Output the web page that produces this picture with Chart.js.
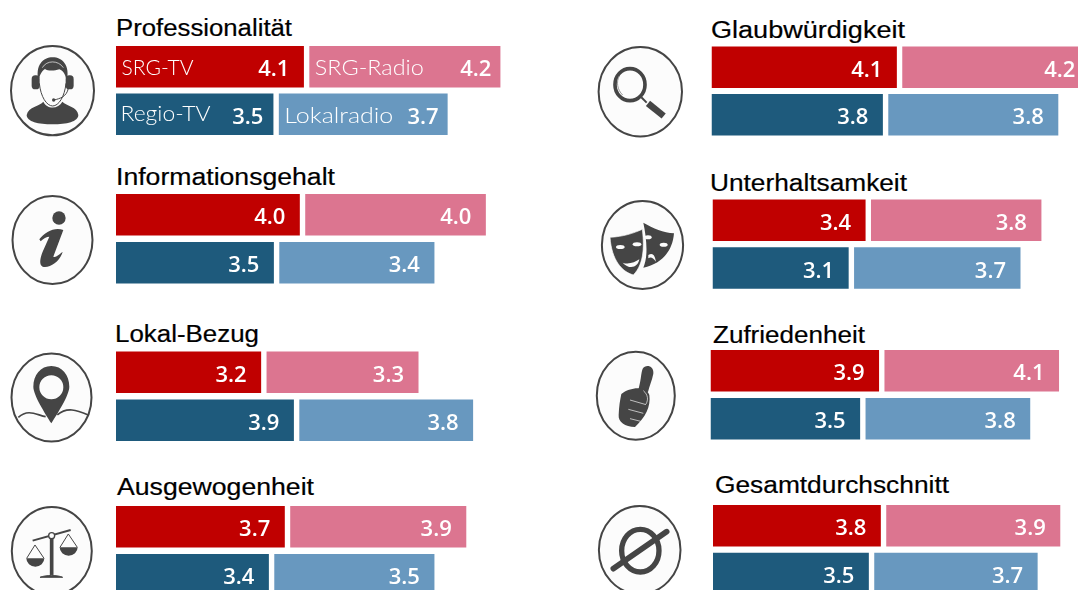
<!DOCTYPE html>
<html lang="de">
<head>
<meta charset="utf-8">
<title>Qualitätsbewertung</title>
<script src="https://cdn.jsdelivr.net/npm/chart.js@4"></script>
<style>
html,body{margin:0;padding:0;background:#fff;width:1078px;height:590px;overflow:hidden}
#stage{position:relative;width:1078px;height:590px;overflow:hidden}
canvas{position:absolute}
.title{position:absolute;font:23px "Liberation Sans",Arial,sans-serif;color:#000;white-space:nowrap;transform-origin:0 0;line-height:26px;-webkit-text-stroke:.2px #000}
#icons{position:absolute;left:0;top:0}
</style>
</head>
<body>
<div id="stage">
<svg id="icons" width="1078" height="590" viewBox="0 0 1078 590" fill="#454545">
  <g fill="#fcfcfc" stroke="#454545" stroke-width="2">
    <ellipse cx="52.5" cy="90.7" rx="41.5" ry="44.6"/>
    <ellipse cx="52.5" cy="240" rx="40" ry="44"/>
    <ellipse cx="51.5" cy="397.5" rx="40" ry="44"/>
    <ellipse cx="51.8" cy="551" rx="40" ry="44"/>
    <ellipse cx="640.3" cy="91.7" rx="41.7" ry="44.7"/>
    <ellipse cx="642.5" cy="245" rx="40.6" ry="44"/>
    <ellipse cx="635.8" cy="395.8" rx="39" ry="44"/>
    <ellipse cx="639.7" cy="550" rx="40.8" ry="44"/>
  </g>
  <!-- headset -->
  <g transform="scale(.3333)">
    <path d="M80 345C85 320 120 318 130 305C140 328 175 328 187 305C200 318 232 320 235 345C235 365 200 373 158 373C115 373 80 365 80 345Z"/>
    <path d="M118 250C122 290 140 318 158 318C176 318 194 290 198 250" fill="none" stroke="#454545" stroke-width="3"/>
    <path d="M116 245C104 195 130 172 158 172C186 172 212 195 200 245C197 225 192 214 178 208C160 214 142 212 135 207C123 215 118 228 116 245Z"/>
    <rect x="95" y="226" width="24" height="42" rx="11"/><rect x="197" y="226" width="24" height="42" rx="11"/>
    <path d="M127 203C140 180 175 180 190 203" fill="none" stroke="#fcfcfc" stroke-width="2"/>
    <path d="M205 265C200 290 180 296 162 300" fill="none" stroke="#454545" stroke-width="3"/><circle cx="161" cy="300" r="5"/>
  </g>
  <!-- info -->
  <g transform="scale(.3333)">
    <circle cx="177" cy="654" r="20"/>
    <path d="M118 718C135 695 165 680 190 690L160 770C165 775 175 765 188 755C180 785 150 805 128 800C115 795 122 770 128 755L148 710C140 710 130 715 122 724Z"/>
  </g>
  <!-- pin -->
  <g transform="translate(0 300) scale(.3333)">
    <path fill-rule="evenodd" d="M154 198C122 198 100 225 100 260C100 285 135 340 154 370C173 340 208 285 208 260C208 225 186 198 154 198ZM154 226A36 36 0 1 0 154 298A36 36 0 1 0 154 226Z"/>
    <path d="M55 352C85 325 110 345 137 350M172 345C200 320 230 330 265 345" fill="none" stroke="#454545" stroke-width="5"/>
  </g>
  <!-- scales -->
  <g transform="translate(0 300) scale(.3333)">
    <path d="M98 722L212 690" stroke="#454545" stroke-width="6"/>
    <path d="M155 707V825" stroke="#454545" stroke-width="11"/>
    <path d="M120 832C135 825 175 825 188 832Z" stroke="#454545" stroke-width="3"/>
    <circle cx="155" cy="707" r="9" fill="#fcfcfc" stroke="#454545" stroke-width="4"/>
    <path d="M80 775L105 735L132 775M180 742L205 702L232 742" fill="none" stroke="#454545" stroke-width="3"/>
    <path d="M79 775A27 25 0 0 0 133 775ZM179 742A27 25 0 0 0 233 742Z"/>
  </g>
  <!-- magnifier -->
  <g transform="translate(580 0) scale(.3333)">
    <ellipse cx="150" cy="254" rx="45" ry="48" fill="none" stroke="#454545" stroke-width="11"/>
    <path d="M118 228C108 245 112 270 128 285" fill="none" stroke="#999" stroke-width="3"/>
    <path d="M184 292L200 308" stroke="#454545" stroke-width="6"/>
    <path d="M204 310L251 348" stroke="#454545" stroke-width="20"/>
  </g>
  <!-- masks -->
  <g transform="translate(580 0) scale(.3333)">
    <path d="M190 668C220 685 250 698 282 700C278 750 250 790 190 803C205 770 200 715 190 668Z"/>
    <path d="M90 712C130 710 160 700 187 688C192 730 195 790 160 825C125 815 95 780 90 712Z" stroke="#fcfcfc" stroke-width="2"/>
    <g fill="#fcfcfc">
      <ellipse cx="121" cy="741" rx="13" ry="6"/><ellipse cx="171" cy="733" rx="13" ry="6"/>
      <path d="M128 788C145 795 165 787 178 778C175 800 150 812 128 788Z"/>
      <ellipse cx="204" cy="712" rx="11" ry="6"/><ellipse cx="251" cy="734" rx="12" ry="6"/>
      <path d="M205 765C220 755 225 770 228 785C218 772 212 770 205 775Z"/>
    </g>
  </g>
  <!-- thumb -->
  <g transform="translate(580 300) scale(.3333)">
    <path d="M174 272C183 245 183 218 188 206C197 191 223 197 220 221C216 242 208 258 204 276Z"/>
    <path d="M124 282C150 262 197 256 208 285C213 320 196 352 165 381C135 381 114 366 116 345C117 320 120 300 124 282Z"/>
    <path d="M190 272C205 285 205 300 198 312M150 300L198 314M145 328L190 340M150 356L182 364" fill="none" stroke="#fcfcfc" stroke-width="2"/>
  </g>
  <!-- average -->
  <g transform="translate(580 300) scale(.3333)">
    <ellipse cx="181" cy="752" rx="56" ry="64" fill="none" stroke="#454545" stroke-width="16"/>
    <path d="M100 806L260 695" stroke="#454545" stroke-width="17" stroke-linecap="round"/>
  </g>
</svg>
</div>
<script>
// --- data (labels show one decimal) ---
const categories = ["Professionalität","Informationsgehalt","Lokal-Bezug","Ausgewogenheit","Glaubwürdigkeit","Unterhaltsamkeit","Zufriedenheit","Gesamtdurchschnitt"];
const seriesNames = ["SRG-TV","SRG-Radio","Regio-TV","Lokalradio"];
const srgTv      = [4.13,4.04,3.19,3.71,4.11,3.44,3.92,3.78];
const srgRadio   = [4.20,3.97,3.34,3.87,4.16,3.83,4.06,3.92];
const regioTv    = [3.46,3.47,3.91,3.36,3.80,3.06,3.48,3.51];
const lokalradio = [3.71,3.41,3.82,3.52,3.77,3.74,3.83,3.68];

// --- colours ---
const colors = {srgTv:"#c00000",srgRadio:"#dc7590",regioTv:"#1e5a7c",lokalradio:"#6898bf"};

// --- layout, one per panel: bars left/top, row pitch, px per unit, title x/baseline/width ---
const layout = [
 {x:116,  y:46,    p:47.6, u:45.5, tx:115.7, tb:36,    tw:176},
 {x:116,  y:194,   p:48,   u:45.5, tx:115.5, tb:185,   tw:219},
 {x:116,  y:351.5, p:48,   u:45.5, tx:115,   tb:341.7, tw:144},
 {x:116,  y:506,   p:48,   u:45.5, tx:117,   tb:495,   tw:197},
 {x:711.5,y:46.5,  p:47.6, u:45.1, tx:711,   tb:37.5,  tw:194},
 {x:712.5,y:199.5, p:47.8, u:44.5, tx:709.6, tb:190.7, tw:197},
 {x:710.5,y:350,   p:48,   u:43,   tx:713,   tb:342.7, tw:152},
 {x:713,  y:505,   p:47.8, u:44.4, tx:715,   tb:492.7, tw:234}
];
const BAR_H = 41.4, GAP_PX = 5.4, CANVAS_W = 440, VALUE_INSET = 14.5;

// series-name captions in the first panel only (value labels sit closer to the bar end there)
const captionStyle = {
 "SRG-TV":    {dx:5.5, w:72,  dy:8.3, inset:14.5},
 "SRG-Radio": {dx:5.5, w:109, dy:7.8, inset:9},
 "Regio-TV":  {dx:4.5, w:90,  dy:6.2, inset:10},
 "Lokalradio":{dx:5.5, w:109, dy:8.4, inset:9}
};

const labelPlugin = {
 id:"barLabels",
 afterDatasetsDraw(chart, args, opts){
  const ctx = chart.ctx;
  chart.data.datasets.forEach((ds,di)=>{
   if(ds.isGap) return;
   const meta = chart.getDatasetMeta(di);
   ds.data.forEach((v,i)=>{
    if(v===null) return;
    const el = meta.data[i];
    const st = opts.captions ? captionStyle[ds.label] : null;
    ctx.save();
    ctx.fillStyle = "#fff";
    ctx.textBaseline = "alphabetic";
    ctx.textAlign = "right";
    ctx.font = '600 22px "Open Sans",sans-serif';
    ctx.fillText(v.toFixed(1), el.x-(st?st.inset:VALUE_INSET), el.y+9.5);
    if(st){
     ctx.textAlign = "left";
     ctx.font = '300 21px Lato,sans-serif';
     const sx = st.w/ctx.measureText(ds.label).width;
     ctx.translate(el.base+st.dx, el.y+st.dy);
     ctx.scale(sx,1);
     ctx.fillText(ds.label,0,0);
    }
    ctx.restore();
   });
  });
 }
};

const stage = document.getElementById("stage");
categories.forEach((name,i)=>{
 const L = layout[i];
 // title
 const t = document.createElement("div");
 t.className = "title"; t.textContent = name;
 t.style.left = L.tx+"px"; t.style.top = (L.tb-21)+"px";
 stage.appendChild(t);
 t.style.transform = "scaleX("+(L.tw/t.getBoundingClientRect().width)+")";
 // chart
 const topBand = L.y-(L.p-BAR_H)/2;
 const left = Math.floor(L.x), top = Math.floor(topBand);
 const padL = L.x-left, padT = topBand-top;
 const H = Math.ceil(padT+2*L.p);
 const c = document.createElement("canvas");
 c.style.left = left+"px"; c.style.top = top+"px";
 c.style.width = CANVAS_W+"px"; c.style.height = H+"px";
 c.width = CANVAS_W; c.height = H;
 stage.appendChild(c);
 const gap = GAP_PX/L.u;
 new Chart(c,{
  type:"bar",
  plugins:[labelPlugin],
  data:{
   labels:["SRG","Regional"],
   datasets:[
    {label:seriesNames[0],data:[srgTv[i],null],backgroundColor:colors.srgTv},
    {label:seriesNames[2],data:[null,regioTv[i]],backgroundColor:colors.regioTv},
    {label:"gap",isGap:true,data:[gap,gap],backgroundColor:"rgba(0,0,0,0)"},
    {label:seriesNames[1],data:[srgRadio[i],null],backgroundColor:colors.srgRadio},
    {label:seriesNames[3],data:[null,lokalradio[i]],backgroundColor:colors.lokalradio}
   ]
  },
  options:{
   indexAxis:"y",responsive:false,animation:false,devicePixelRatio:1,
   layout:{padding:{left:padL,top:padT,right:0,bottom:H-padT-2*L.p}},
   datasets:{bar:{categoryPercentage:1,barPercentage:BAR_H/L.p,borderWidth:0}},
   scales:{
    x:{type:"linear",stacked:true,display:false,min:0,max:(CANVAS_W-padL)/L.u,grid:{display:false}},
    y:{stacked:true,display:false,grid:{display:false}}
   },
   plugins:{legend:{display:false},title:{display:false},tooltip:{enabled:false},barLabels:{captions:i===0}}
  }
 });
});
</script>
</body>
</html>
